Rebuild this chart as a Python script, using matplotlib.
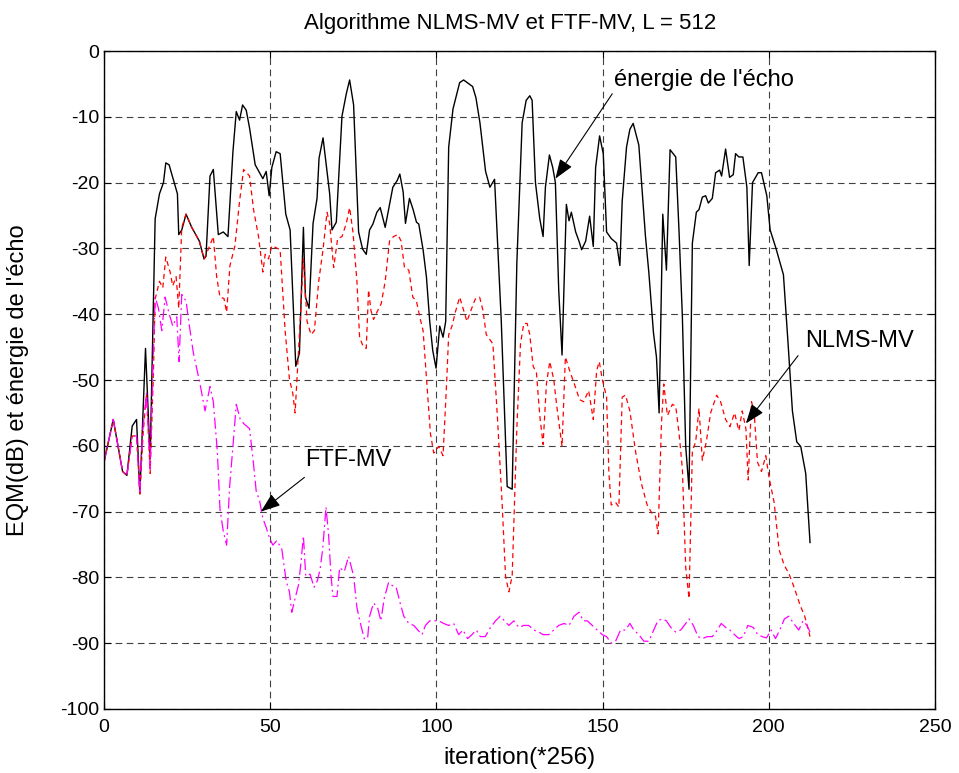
import matplotlib
matplotlib.use("Agg")
import matplotlib.pyplot as plt

plt.rcParams['axes.unicode_minus'] = False

# energie de l'echo (black, solid)
echo_x = [0, 2.8, 5.6, 6.9, 8.5, 9.8, 10.8, 12.5, 13.9, 15.4, 16.7, 17.9, 18.6, 19.6, 22.1, 22.5,
          23.4, 24.7, 26.4, 28.7, 30.1, 30.7, 31.9, 32.9, 34.4, 35.9, 37.3, 38.8, 39.8, 40.8, 41.7,
          42.8, 43.8, 45.5, 47.8, 48.8, 49.7, 50.5, 51.8, 53, 54.7, 56, 57.7, 58.8, 60, 60.6, 61.7,
          62.9, 64.1, 64.7, 65.9, 67.9, 68.6, 69.9, 71.6, 72.9, 73.9, 75.1, 76.6, 77.8, 78.9, 79.9,
          80.9, 82.1, 83.1, 84.6, 86.9, 88.2, 89, 90, 90.7, 91.9, 93, 94, 94.7, 96, 97, 98, 98.9,
          99.9, 101, 102, 102.8, 103.7, 105, 107, 108.2, 109.3, 110.9, 111.9, 113.1, 114.8, 116.1,
          117.5, 119.5, 121.3, 122.8, 124.2, 125.8, 127.0, 128.1, 128.8, 129.8, 131.1, 132.1, 132.8,
          134, 135, 135.8, 136.8, 137.8, 139.1, 139.9, 140.6, 141.9, 142.9, 143.7, 144.9, 146.1,
          147.2, 147.9, 149.1, 150.2, 151.2, 152.6, 154.2, 155.2, 155.9, 157.2, 158.2, 159.2, 160.9,
          162.9, 163.9, 165.3, 166.2, 167.0, 168.1, 169.2, 170.3, 172, 173, 174, 175, 176, 177,
          178.2, 179, 180, 181, 181.8, 183, 184, 185.2, 185.8, 187, 188.2, 189.3, 190, 191, 192.2,
          193.4, 194.1, 195.1, 196.8, 197.8, 199.4, 200.4, 202.1, 204.4, 205.8, 207.1, 208.4, 209.6,
          211.1, 212.4]
echo_y = [-62.5, -56, -63.9, -64.5, -57, -56, -67.3, -45.2, -62, -25.5, -21.7, -20, -17, -17.3, -21.7,
          -27.9, -27.2, -24.8, -26.8, -28.9, -31.6, -31.2, -19, -18, -27.9, -27.5, -28.2, -15.3, -9.2,
          -10.5, -8.2, -9, -11.7, -17.3, -19.4, -18.3, -22, -17.7, -15.3, -15.6, -24.8, -27.2, -47.9,
          -45.9, -26.8, -37.4, -39.1, -26.2, -22.4, -16.3, -13.2, -21.7, -27.2, -26, -9.9, -6.5, -4.4,
          -8.2, -27.5, -30.1, -30.9, -27.2, -26.3, -24.5, -23.8, -26.8, -20.7, -19.7, -18.7, -21.4,
          -26.2, -22.4, -24.1, -26, -26.3, -30.2, -34.3, -41.1, -45.5, -48.2, -41.8, -43.5, -41.1,
          -14.6, -8.8, -4.8, -4.4, -4.8, -5.4, -7.1, -10.9, -18.3, -20.7, -19.5, -40.8, -66.2, -66.6,
          -32.3, -10.9, -7.5, -6.8, -7.5, -20, -25.5, -28.2, -20.7, -15.8, -17.7, -20, -36.3, -46.2,
          -23.3, -25.8, -24.5, -27.5, -28.9, -30.2, -28.9, -25.1, -29.7, -17.7, -12.9, -15.6, -27.5,
          -28.5, -29.2, -32.6, -22.8, -14.6, -11.9, -11, -14.3, -28.2, -33.6, -42.8, -46.5, -55,
          -24.8, -33.3, -15, -16.1, -27.5, -40.4, -60.1, -66.6, -29.2, -24.5, -24.1, -22.2, -22,
          -23.1, -22.4, -18.5, -18.1, -19, -14.9, -19.2, -18.8, -15.6, -16.1, -16.1, -20.7, -32.6,
          -20, -18.5, -18.5, -22, -27.2, -29.9, -34, -44.5, -54.7, -59.4, -60.1, -64.2, -74.7]

# NLMS-MV (red, dashed)
nlms_x = [0, 2.8, 5.6, 6.9, 8.5, 9.8, 10.8, 11.8, 12.8, 13.9, 14.9, 15.4, 16.7, 17.7, 18.6, 19.9,
          20.7, 21.7, 22.5, 23.4, 24.7, 26.4, 28.7, 30.1, 31.5, 32.9, 33.9, 34.9, 36.1, 36.9, 37.9,
          39.4, 40.8, 42.0, 43.8, 45, 46.5, 47.8, 48.5, 49.5, 50.5, 51.8, 53, 54.5, 55.8, 56.8,
          57.5, 58.5, 60, 61.1, 62.3, 63.3, 64.6, 65.9, 67.1, 67.9, 69.1, 70.3, 71.6, 72.9, 73.9,
          74.9, 76.1, 76.9, 77.9, 78.9, 79.6, 80.3, 81.1, 82.1, 83.4, 84.6, 85.9, 87.1, 88.4, 89.4,
          90.4, 91.7, 92.9, 94, 95, 96, 97.2, 98.2, 99.2, 100.7, 102, 103, 103.7, 104.7, 105.7, 107,
          108.2, 109.2, 110.4, 111.7, 113, 114, 115, 117, 118.4, 119.8, 120.8, 121.8, 122.8, 124.2,
          125.3, 126.3, 127.3, 128.1, 129.1, 130.1, 131.1, 132.1, 133.1, 134.1, 135.3, 136.3,
          137.8, 138.8, 140.1, 141.5, 143.1, 144.3, 145.8, 147.2, 148.2, 149, 149.9, 151.2, 151.9,
          152.6, 153.9, 154.9, 155.9, 156.9, 158.2, 159.9, 161.6, 163.4, 164.9, 165.9, 166.7,
          167.7, 168.4, 169.5, 171, 172, 173, 174, 175, 176, 177, 178, 179, 180, 181.2, 182.5,
          184.3, 185.5, 187, 188.3, 189.7, 191, 192, 193.1, 193.8, 194.8, 195.6, 196.6, 197.8,
          199.1, 200.1, 201.6, 203.1, 204.6, 206.1, 207.6, 209.4, 210.8, 212.4]
nlms_y = [-62.5, -56, -63.9, -64.5, -58.5, -58.5, -67.3, -58, -52, -64.2, -48.6, -37.7, -35, -36,
          -31.3, -33.6, -35.7, -34.3, -39.1, -26.8, -24.8, -26.8, -28.9, -31.6, -30, -28.2, -34.3,
          -37.4, -37.6, -39.7, -32.6, -29.6, -22.8, -18, -19, -24.1, -28.2, -33.6, -30.9, -31.6,
          -29.6, -29.9, -30.2, -42.5, -49.9, -52, -55, -45.9, -31.6, -41.1, -43.1, -42.5, -35,
          -30.2, -24.5, -26.2, -32.9, -28.5, -28.2, -26.2, -23.8, -27.5, -35, -43.5, -44.8, -45.2,
          -36.3, -39.4, -40.8, -39.7, -38.4, -35, -28.9, -28.2, -27.9, -28.9, -32.9, -33.3, -37.4,
          -38, -40.4, -42.5, -51, -58.1, -61.1, -60.1, -61.5, -51.3, -43.1, -41.8, -39.7, -37.4,
          -39.4, -41.1, -39.4, -37.7, -37.4, -39.4, -43.1, -44.5, -56, -69, -79.8, -82.2, -79.8,
          -57.4, -44.5, -41.4, -41.4, -43.1, -47.9, -48.9, -55.4, -59.8, -50.6, -47.2, -49.9,
          -54.3, -60.1, -46.5, -48.6, -50.6, -53, -53.3, -51.6, -56, -48.6, -47.2, -49.9, -52.6,
          -64.2, -69, -68.6, -69.3, -52.6, -52.3, -54.7, -60.8, -65.6, -69, -70.3, -70.7, -73.4,
          -56.7, -50.6, -55.4, -53.7, -54, -58.1, -63.5, -78.5, -83.2, -60.8, -59.4, -54.3, -62.2,
          -59.4, -55, -52.3, -53.3, -56, -57.1, -55, -57.7, -54.7, -57.4, -65.2, -53.3, -55,
          -62.5, -63.9, -61.5, -64.9, -68.6, -75.8, -78.1, -79.5, -81.5, -84.2, -85.9, -89]

# FTF-MV (magenta, dash-dot)
ftf_x = [0, 2.8, 5.6, 6.9, 8.5, 9.8, 10.8, 11.6, 12.8, 13.9, 14.7, 15.4, 16.4, 17.4, 18.4, 19.7,
         20.7, 21.9, 22.6, 23.4, 24.7, 25.7, 26.9, 28.9, 30.4, 31.9, 32.9, 34.1, 34.9, 35.9, 36.9,
         37.8, 38.8, 39.8, 41, 42.2, 43.8, 45, 45.8, 46.8, 47.8, 48.8, 49.8, 50.8, 52, 53.5, 54.8,
         55.8, 56.5, 57.5, 58.5, 59.2, 60, 60.7, 62, 63.2, 64.2, 65, 65.8, 66.8, 67.6, 68.3, 68.9,
         70.1, 70.9, 72.3, 73.6, 75.1, 76.1, 77.3, 78.3, 79.3, 79.9, 81.1, 82.3, 83.3, 84.3, 85.6,
         86.6, 87.9, 89.1, 90.2, 91.7, 93.2, 94.4, 95.7, 96.7, 98, 99.2, 100.7, 102.2, 103.7,
         105.2, 106.7, 108, 109.4, 110.7, 112, 113.2, 114.7, 116.3, 117.8, 119.2, 120.5, 121.8,
         123.3, 124.8, 126.3, 127.8, 129.3, 130.8, 132.1, 133.8, 135.3, 136.8, 138.4, 139.9,
         141.4, 142.9, 144.2, 145.4, 146.9, 148.4, 149.9, 151.2, 152.6, 153.9, 155.4, 156.9,
         158.2, 159.4, 160.9, 162.4, 163.9, 165.4, 166.6, 167.9, 169.2, 170.5, 172, 173.5, 175,
         176, 177.3, 178.7, 180, 181.5, 183, 184.5, 185.7, 187, 188.3, 189.7, 191, 192.3, 193.7,
         195.3, 196.7, 198, 199.3, 200.7, 202, 203.3, 204.7, 206, 207.5, 209, 210.3, 211.5, 212.4]
ftf_y = [-62.5, -56, -63.9, -64.5, -58.5, -58.5, -67.3, -58, -52, -63.5, -48.6, -37.4, -39.1,
         -42.5, -37.4, -40.1, -41.8, -40.4, -47.2, -37, -38, -41.8, -45.9, -50.6, -54.7, -51,
         -53.3, -60.8, -69.6, -73, -75.1, -66.2, -60.1, -53.7, -56, -56.7, -57.4, -62.8, -66.9,
         -68.3, -71, -72.4, -74, -75.1, -74.4, -75.7, -80.5, -82.2, -85.3, -83.2, -81.2, -78.1,
         -73.7, -79.8, -79.5, -81.5, -80.5, -78.8, -75.7, -69.3, -73.7, -79.8, -82.9, -82.9,
         -78.5, -79.1, -76.8, -79.8, -84.6, -87.3, -89.3, -89.3, -85.9, -83.9, -84.6, -86.6,
         -83.2, -80.8, -81.2, -81.5, -83.9, -85.9, -87, -87.3, -88, -88.7, -87.3, -86.6, -86.6,
         -86.6, -87, -87.3, -87, -88.7, -88, -89.3, -88.7, -88, -89, -89, -87.6, -86.6, -85.9,
         -86.6, -87.3, -86.6, -87.6, -87.3, -87.3, -88, -88.3, -88.7, -88.7, -88, -87.3, -87,
         -87.3, -85.9, -85.3, -86.6, -86.6, -87.3, -88, -88.7, -89, -90, -89.7, -88, -88, -87,
         -88, -88.7, -89.7, -89.7, -88, -86.6, -86.3, -86.6, -87.6, -88.3, -88, -87, -86.3,
         -87.3, -89, -89.3, -89, -89, -88, -87, -87.6, -88, -88.7, -89.3, -89, -87.3, -87.6,
         -88.7, -89, -89.2, -88, -89.3, -88, -86.3, -85.9, -87, -88, -86.6, -87.3, -88.3]

plt.rcParams['font.family'] = ['Liberation Sans', 'DejaVu Sans']
fig = plt.figure(figsize=(9.59, 7.73), dpi=100)
ax = fig.add_axes([0.1084, 0.0828, 0.8666, 0.8512])

ax.plot(echo_x, echo_y, color='black', lw=1.0)
ax.plot(nlms_x, nlms_y, color='red', lw=0.9, linestyle=(0, (4, 3)))
ax.plot(ftf_x, ftf_y, color='magenta', lw=0.9, linestyle=(0, (9, 3, 1.5, 3)))

ax.set_xlim(0, 250)
ax.set_ylim(-100, 0)
ax.set_xticks([0, 50, 100, 150, 200, 250])
ax.set_yticks(range(-100, 1, 10))
ax.grid(True, color='#404040', linestyle=(0, (6, 4)), linewidth=0.8)
ax.tick_params(direction='in', length=5, labelsize=14, top=True, right=True)
ax.tick_params(axis='x', pad=7)
for s in ax.spines.values():
    s.set_linewidth(1.0)

ax.set_title('Algorithme NLMS-MV et FTF-MV, L = 512', fontsize=16, pad=16, x=0.489)
ax.set_xlabel('iteration(*256)', fontsize=17.5)
ax.xaxis.set_label_coords(0.5, -0.057)
ax.set_ylabel("EQM(dB) et énergie de l'écho", fontsize=17)
ax.yaxis.set_label_coords(-0.09, 0.5)

arrow = dict(arrowstyle='-|>,head_length=0.6,head_width=0.22', color='black', lw=0.8,
             mutation_scale=20, shrinkA=0, shrinkB=0)
txt = dict(fontsize=17, va='center')
ax.annotate('', xy=(135.8, -19.4), xytext=(152.9, -6.5), arrowprops=arrow)
ax.text(153.5, -4.4, "énergie de l'écho", **txt)
ax.annotate('', xy=(193.1, -56.6), xytext=(208.8, -46.3), arrowprops=arrow)
ax.text(211.0, -44.0, 'NLMS-MV', **txt)
ax.annotate('', xy=(47.2, -70.0), xytext=(60.3, -64.8), arrowprops=arrow)
ax.text(60.6, -62.2, 'FTF-MV', **txt)

fig.savefig('out.png', dpi=100)
